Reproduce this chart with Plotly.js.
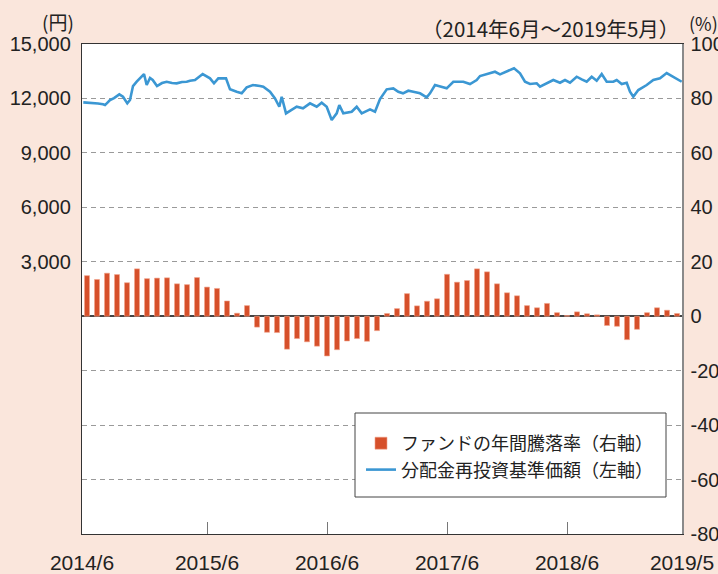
<!DOCTYPE html>
<html>
<head>
<meta charset="utf-8">
<script src="https://cdn.plot.ly/plotly-3.0.1.min.js"></script>
<style>
  html, body { margin: 0; padding: 0; background: #fae6dc; }
  #chart { width: 718px; height: 574px; }
</style>
</head>
<body>
<div id="chart"></div>
<script>
// ---- Data ----
const months = [
  '2014/6','2014/7','2014/8','2014/9','2014/10','2014/11','2014/12','2015/1','2015/2','2015/3','2015/4','2015/5',
  '2015/6','2015/7','2015/8','2015/9','2015/10','2015/11','2015/12','2016/1','2016/2','2016/3','2016/4','2016/5',
  '2016/6','2016/7','2016/8','2016/9','2016/10','2016/11','2016/12','2017/1','2017/2','2017/3','2017/4','2017/5',
  '2017/6','2017/7','2017/8','2017/9','2017/10','2017/11','2017/12','2018/1','2018/2','2018/3','2018/4','2018/5',
  '2018/6','2018/7','2018/8','2018/9','2018/10','2018/11','2018/12','2019/1','2019/2','2019/3','2019/4','2019/5'
];
// Annual change of the fund (%), right axis
const annualChange = [
  14.9, 13.5, 15.8, 15.3, 12.3, 17.4, 13.8, 14.0, 14.1, 11.9, 11.6, 14.2,
  10.7, 10.2, 5.6, 1.1, 3.9, -4.0, -5.9, -6.0, -12.1, -8.2, -9.4, -11.0,
  -14.6, -12.3, -9.1, -8.2, -9.2, -5.3, 1.0, 2.8, 8.3, 3.8, 5.5, 6.4,
  15.4, 12.5, 13.1, 17.4, 16.3, 11.9, 8.6, 7.5, 3.9, 3.1, 4.7, 1.3,
  0.25, 1.6, 0.9, 0.5, -3.4, -3.7, -8.6, -4.8, 1.3, 3.1, 2.2, 1.0
];
// NAV with dividends reinvested (yen), left axis; time in months since 2014/6/1
const navMonth = [
  0.13, 0.6, 1.1, 1.6, 2.1, 2.3, 2.5, 2.8, 3.2, 3.73, 4.1, 4.53, 4.8, 5.1, 5.47, 5.8, 6.2, 6.47, 6.8, 7.07,
  7.5, 8.0, 8.47, 9.0, 9.47, 10.0, 10.47, 10.8, 11.3, 12.07, 12.8, 13.2, 13.63, 14.4, 14.8, 15.47, 15.97, 16.47, 17.1, 17.8,
  18.13, 18.8, 19.3, 19.73, 19.97, 20.4, 20.97, 21.47, 22.1, 22.8, 23.47, 23.97, 24.47, 24.97, 25.47, 25.73, 26.13, 26.97, 27.47, 27.97,
  28.8, 29.3, 29.8, 30.47, 31.13, 31.63, 32.1, 32.63, 33.13, 33.8, 34.47, 34.8, 35.3, 35.8, 36.47, 37.13, 38.13, 38.8, 39.47, 39.8,
  40.8, 41.3, 41.8, 42.47, 43.2, 43.8, 44.3, 44.8, 45.47, 45.8, 46.47, 47.13, 47.8, 48.3, 48.8, 49.47, 49.97, 50.47, 50.97, 51.47,
  51.97, 52.47, 53.13, 53.47, 53.97, 54.47, 54.8, 55.13, 55.63, 56.47, 57.13, 57.8, 58.47, 59.13, 59.6, 59.97
];
const navValue = [
  11785, 11774, 11746, 11719, 11675, 11636, 11746, 11912, 12022, 12226, 12094, 11730, 11912, 12684, 12921, 13125, 13346, 12739, 13125, 13015,
  12684, 12849, 12921, 12849, 12833, 12904, 12921, 12976, 13015, 13346, 13108, 12833, 13108, 13108, 12502, 12369, 12281, 12612, 12739, 12684,
  12645, 12369, 12005, 11542, 12094, 11178, 11360, 11542, 11454, 11730, 11542, 11763, 11542, 10809, 11178, 11636, 11178, 11266, 11542, 11178,
  11399, 11266, 11967, 12502, 12557, 12369, 12281, 12425, 12369, 12281, 12061, 12281, 12739, 12645, 12557, 12921, 12921, 12794, 13015, 13235,
  13384, 13472, 13329, 13472, 13660, 13384, 12921, 12794, 12833, 12645, 12833, 13015, 12866, 13015, 12866, 13197, 13053, 12921, 13197, 12976,
  13346, 12921, 12921, 13015, 12794, 12866, 12369, 12094, 12463, 12739, 13015, 13108, 13400, 13197, 13015, 12921
];
// Tick labels
const xTickVals = [0, 12.5, 24.5, 36.5, 48.5, 60];
const xTickText = ['2014/6', '2015/6', '2016/6', '2017/6', '2018/6', '2019/5'];
const leftTickVals = [3000, 6000, 9000, 12000, 15000];
const leftTickText = ['3,000', '6,000', '9,000', '12,000', '15,000'];
const rightTickVals = [-80, -60, -40, -20, 0, 20, 40, 60, 80, 100];
const rightTickText = ['-80', '-60', '-40', '-20', '0', '20', '40', '60', '80', '100'];

const seriesNames = ['ファンドの年間騰落率（右軸）', '分配金再投資基準価額（左軸）'];
const periodText = '（2014年6月～2019年5月）';

// ---- Traces ----
const barX = months.map((m, i) => i + 0.5);

const traces = [
  {
    type: 'bar',
    x: barX,
    y: annualChange,
    text: months,
    textposition: 'none',
    hoverinfo: 'text+y',
    yaxis: 'y2',
    width: 0.5,
    name: seriesNames[0],
    marker: { color: '#d6502b', line: { color: '#f2a38c', width: 0.6 } }
  },
  {
    type: 'scatter',
    mode: 'lines',
    x: navMonth,
    y: navValue,
    yaxis: 'y',
    name: seriesNames[1],
    line: { color: '#3b97d3', width: 2.6 }
  }
];

// helpers for paper coordinates from pixel positions
const PL = 82, PR = 682, PT = 44, PB = 534;
const px = x => (x - PL) / (PR - PL);
const py = y => (PB - y) / (PB - PT);

const cjk = 'Noto Sans CJK JP, Noto Sans, sans-serif';

const layout = {
  width: 718,
  height: 574,
  paper_bgcolor: '#fae6dc',
  plot_bgcolor: '#ffffff',
  margin: { l: 82, r: 36, t: 44, b: 40, pad: 0 },
  font: { family: 'Liberation Sans, Arial, sans-serif', size: 20, color: '#222' },
  showlegend: true,
  bargap: 0,
  xaxis: {
    range: [0, 60],
    tickvals: xTickVals,
    ticktext: xTickText,
    ticks: 'inside',
    ticklen: 12,
    tickcolor: '#777',
    tickwidth: 1,
    showline: true,
    linecolor: '#333',
    linewidth: 1.2,
    mirror: true,
    showgrid: false,
    zeroline: false,
    ticklabelstandoff: 10,
    tickfont: { size: 21 }
  },
  yaxis: {
    range: [-12000, 15000],
    tickvals: leftTickVals,
    ticktext: leftTickText,
    showgrid: false,
    zeroline: false,
    showline: true,
    linecolor: '#333',
    linewidth: 1.2,
    ticks: '',
    ticklabelstandoff: 6,
    tickfont: { size: 20 }
  },
  yaxis2: {
    overlaying: 'y',
    side: 'right',
    range: [-80, 100],
    tickvals: rightTickVals,
    ticktext: rightTickText,
    showgrid: true,
    gridcolor: '#9a9a9a',
    griddash: '5px,4px',
    gridwidth: 1,
    zeroline: true,
    zerolinecolor: '#444',
    zerolinewidth: 1.5,
    showline: true,
    linecolor: '#8a8a8a',
    linewidth: 1.5,
    ticks: '',
    ticklabelstandoff: 3,
    tickfont: { size: 20 }
  },
  shapes: [
    // legend frame
    { type: 'rect', xref: 'paper', yref: 'paper', layer: 'above',
      x0: px(355), x1: px(666), y0: py(497), y1: py(413),
      fillcolor: '#ffffff', line: { color: '#444', width: 1 } }
  ],
  legend: {
    x: px(361),
    y: py(425),
    xanchor: 'left',
    yanchor: 'top',
    bgcolor: 'rgba(0,0,0,0)',
    borderwidth: 0,
    font: { family: cjk, size: 18, color: '#222' },
    traceorder: 'normal'
  },
  annotations: [
    { text: '(円)', xref: 'paper', yref: 'paper', x: px(58), y: py(21), xanchor: 'center', yanchor: 'middle',
      showarrow: false, font: { family: cjk, size: 19, color: '#222' } },
    { text: periodText, xref: 'paper', yref: 'paper', x: px(681), y: py(28), xanchor: 'right', yanchor: 'middle',
      showarrow: false, font: { family: cjk, size: 20.5, color: '#222' } },
    { text: '(%)', xref: 'paper', yref: 'paper', x: px(687), y: py(23), xanchor: 'left', yanchor: 'middle',
      showarrow: false, font: { family: cjk, size: 18, color: '#222' } }
  ]
};

Plotly.newPlot('chart', traces, layout, { displayModeBar: false, staticPlot: true });
</script>
</body>
</html>
